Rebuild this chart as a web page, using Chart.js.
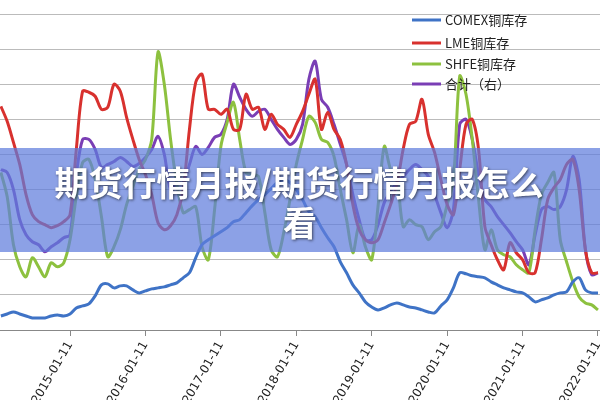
<!DOCTYPE html>
<html><head><meta charset="utf-8">
<script src="https://cdn.jsdelivr.net/npm/chart.js@4"></script>
<style>html,body{margin:0;padding:0;background:#fff}#w{width:600px;height:400px}</style>
</head><body><div id="w"><canvas id="c"></canvas></div>
<script>
// month index (0 = 2015-01), values read as pixel rows then converted to grid units
const startMonth = -11;
const tickMonths = [0,12,24,36,48,60,72,84];
const tickLabels = ['2015-01-11','2016-01-11','2017-01-11','2018-01-11','2019-01-11','2020-01-11','2021-01-11','2022-01-11'];
const seriesNames = ['COMEX铜库存','LME铜库存','SHFE铜库存','合计（右）'];
const comexRows = [316,314,312,314,316,318,318,318,316,315,316,
314,308,306,304,296,285,284,288,286,286,290,293,
291,289,288,287,285,283,278,273,258,245,240,236,
232,228,222,220,213,206,200,195,189,183,180,183,
190,200,212,217,228,238,247,262,273,285,293,302,
307,310,308,305,303,305,307,308,310,312,313,306,
300,288,273,274,276,277,278,282,285,288,290,292,
293,297,302,300,298,295,293,292,282,278,290,293,293];
const lmeRows = [107,122,143,165,195,215,222,225,228,226,222,
215,150,92,93,97,110,108,85,92,118,140,160,
175,195,223,230,226,215,190,130,83,75,110,110,
115,110,130,130,95,110,108,130,115,125,130,138,
125,112,95,80,130,113,130,140,165,205,230,240,
243,240,223,205,185,150,125,122,100,135,153,180,
205,215,170,125,120,150,227,245,260,270,243,253,
260,273,273,240,200,188,180,165,160,190,250,273,273];
const shfeRows = [173,197,245,267,277,258,267,277,263,267,263,
240,197,163,160,180,217,257,247,230,205,187,170,
160,140,53,85,140,185,213,210,207,247,260,210,
147,123,103,140,173,175,177,213,250,257,233,200,
165,140,117,123,140,143,157,190,220,253,225,247,
260,207,147,170,180,227,220,225,227,240,232,227,
205,180,77,95,140,200,250,230,250,255,257,265,
270,273,230,195,183,173,240,262,282,297,303,305,310];
const totalRows = [170,173,190,220,235,242,245,252,247,243,238,
235,175,140,140,150,168,165,162,158,162,167,164,
158,150,137,155,190,184,183,165,147,155,148,138,
135,120,85,98,110,117,112,110,120,130,138,145,
140,125,80,62,100,108,125,145,165,195,220,240,
240,225,203,192,183,177,170,165,170,177,195,213,
228,210,125,120,140,175,200,207,217,225,233,242,
250,265,235,210,207,210,207,190,157,180,250,275,273];
const toUnits = rows => rows.map((r,i)=>({x:startMonth+i, y:(330-r)/35}));
const colors = ['#3f73c6','#d8312e','#8dc13f','#7a3eb5'];
const rows = [comexRows,lmeRows,shfeRows,totalRows];

const overlay = {
  id:'overlay',
  afterDraw(chart){
    const ctx = chart.ctx;
    ctx.save();
    ctx.font = '13px "Noto Sans CJK SC", "DejaVu Sans"';
    ctx.textBaseline = 'middle';
    const ly = [20,43,64,84];
    chart.data.datasets.forEach((d,i)=>{
      ctx.strokeStyle = d.borderColor; ctx.lineWidth = 3;
      ctx.beginPath(); ctx.moveTo(412,ly[i]); ctx.lineTo(441,ly[i]); ctx.stroke();
      ctx.fillStyle = '#222'; ctx.fillText(d.label, 445, ly[i]);
    });
    ctx.fillStyle = 'rgba(95,125,220,0.72)';
    ctx.fillRect(0,148,600,104);
    ctx.font = 'bold 34px "Noto Sans CJK SC"';
    ctx.textAlign = 'center';
    ctx.shadowColor = 'rgba(0,0,0,0.6)'; ctx.shadowBlur = 3; ctx.shadowOffsetX = 1; ctx.shadowOffsetY = 1;
    ctx.fillStyle = '#fff';
    ctx.fillText('期货行情月报/期货行情月报怎么', 299, 183);
    ctx.fillText('看', 300, 223);
    ctx.restore();
  }
};

new Chart(document.getElementById('c'), {
  type:'line',
  data:{ datasets: rows.map((r,i)=>({label:seriesNames[i], data:toUnits(r), borderColor:colors[i], borderWidth:3, pointRadius:0, tension:0.3, fill:false})) },
  options:{
    responsive:true, maintainAspectRatio:false, animation:false,
    layout:{autoPadding:false, padding:{left:0,right:0,top:14,bottom:0}},
    plugins:{legend:{display:false}, tooltip:{enabled:false}},
    scales:{
      x:{type:'linear', min:-11.14, max:84.32,
        afterBuildTicks(s){ s.ticks = tickMonths.map(v=>({value:v})); },
        afterFit(s){ s.height = 70; s.paddingLeft = 0; s.paddingRight = 0; },
        ticks:{autoSkip:false, minRotation:60, maxRotation:60, color:'#222', font:{size:12, family:'"DejaVu Sans"'},
          callback:(v)=>{const k=tickMonths.indexOf(v); return k>=0?tickLabels[k]:'';}},
        grid:{drawOnChartArea:false, tickLength:6, color:'#888'},
        border:{color:'#888'}},
      y:{min:0, max:9, display:true,
        ticks:{display:false, stepSize:1},
        afterFit(s){ s.width = 0; },
        grid:{color:'#bbb', drawTicks:false},
        border:{display:false}}
    }
  },
  plugins:[overlay]
});
</script></body></html>
